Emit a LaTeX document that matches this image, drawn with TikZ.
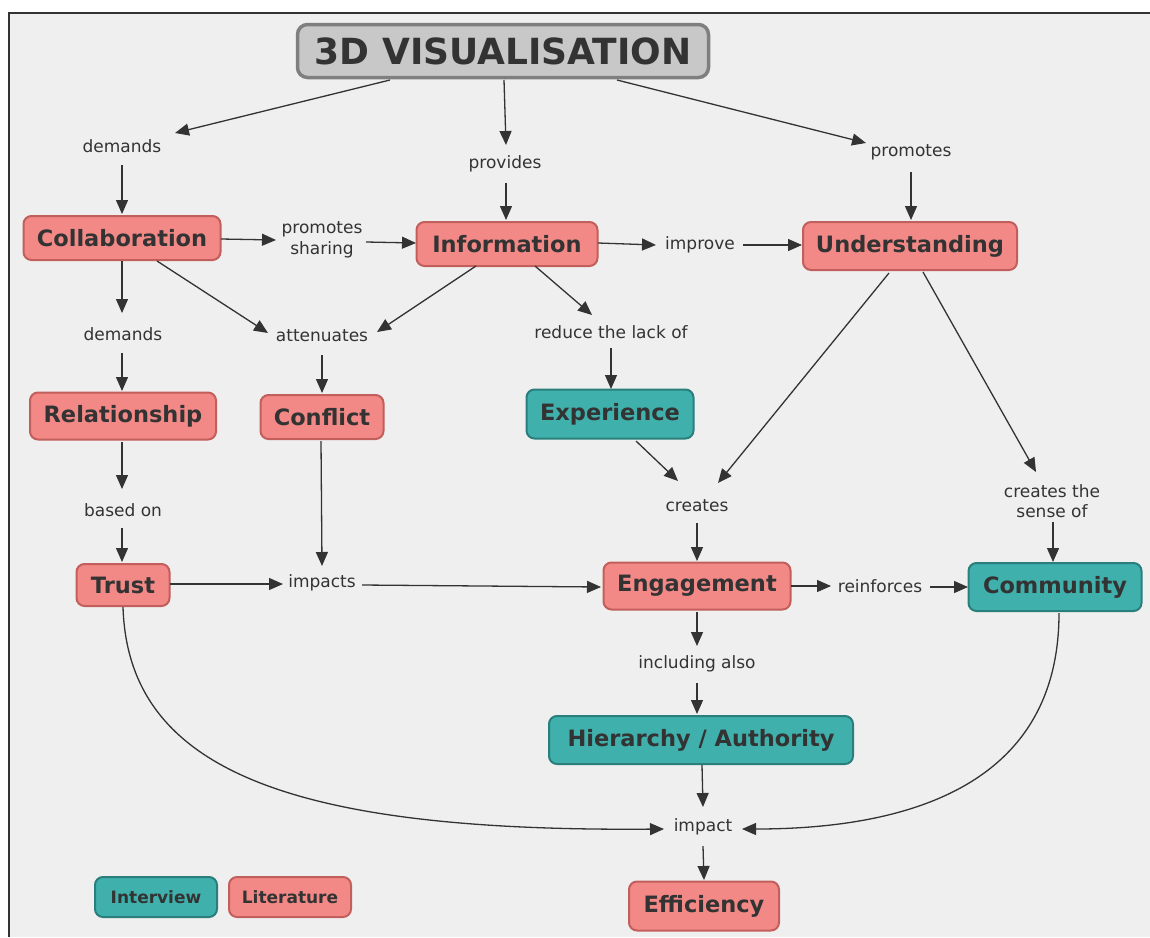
\documentclass[tikz,border=0pt]{standalone}
\usepackage{fontspec}
\setmainfont{DejaVu Sans}
\usetikzlibrary{arrows.meta}
\definecolor{bg}{HTML}{EFEFEF}
\definecolor{txt}{HTML}{333333}
\definecolor{pinkfill}{HTML}{F28986}
\definecolor{pinkdraw}{HTML}{C25E5B}
\definecolor{tealfill}{HTML}{3FB0AC}
\definecolor{tealdraw}{HTML}{2A7F7C}
\definecolor{greyfill}{HTML}{C8C8C8}
\definecolor{greydraw}{HTML}{7F7F7F}
\tikzset{
  box/.style={rounded corners=8pt, line width=2pt, text=txt, inner sep=0pt,
    font=\fontsize{22.5}{26}\selectfont\bfseries},
  lit/.style={box, fill=pinkfill, draw=pinkdraw},
  intv/.style={box, fill=tealfill, draw=tealdraw},
  lbl/.style={text=txt, inner sep=0pt, align=center,
    font=\fontsize{17}{20.5}\selectfont},
  arr/.style={draw=txt, line width=1.3pt, -{Triangle[length=14pt,width=12pt]}},
}
\begin{document}
\begin{tikzpicture}[x=1pt,y=-1pt]
\useasboundingbox (0,0) rectangle (1150,937);
\fill[white] (0,0) rectangle (1150,937);
\fill[bg] (9,13) rectangle (1150,937);
\draw[txt, line width=2pt] (9,937) -- (9,13) -- (1150,13);

% concept nodes
\node[box, fill=greyfill, draw=greydraw, line width=3.5pt, rounded corners=10pt,
  minimum width=411pt, minimum height=53pt,
  font=\fontsize{36}{40}\selectfont\bfseries] (T) at (503,51) {3D VISUALISATION};
\node[lit, minimum width=197pt, minimum height=44pt] (C) at (122,238) {Collaboration};
\node[lit, minimum width=181pt, minimum height=44pt] (I) at (507,244) {Information};
\node[lit, minimum width=214pt, minimum height=48pt] (U) at (910,246) {Understanding};
\node[lit, minimum width=186pt, minimum height=47pt] (RL) at (123,416) {Relationship};
\node[lit, minimum width=123pt, minimum height=44pt] (CF) at (322,417) {Conflict};
\node[intv, minimum width=167pt, minimum height=49pt] (E) at (610,414) {Experience};
\node[lit, minimum width=93pt, minimum height=42pt] (TR) at (123,585) {Trust};
\node[lit, minimum width=187pt, minimum height=47pt] (EN) at (697,586) {Engagement};
\node[intv, minimum width=173pt, minimum height=48pt] (CM) at (1055,587) {Community};
\node[intv, minimum width=304pt, minimum height=48pt] (H) at (701,740) {Hierarchy / Authority};
\node[lit, minimum width=150pt, minimum height=49pt] (EF) at (704,906) {Efficiency};

% legend
\node[intv, minimum width=122pt, minimum height=40pt,
  font=\fontsize{17}{20}\selectfont\bfseries] (LI) at (156,897) {Interview};
\node[lit, minimum width=122pt, minimum height=40pt,
  font=\fontsize{17}{20}\selectfont\bfseries] (LL) at (290,897) {Literature};

% linking phrases
\node[lbl] (D1) at (122,146) {demands};
\node[lbl] (P) at (505,164) {provides};
\node[lbl] (PR) at (911,152) {promotes};
\node[lbl] (PS) at (322,240) {promotes\\sharing};
\node[lbl] (IM) at (700,245) {improve};
\node[lbl] (D2) at (123,334) {demands};
\node[lbl] (A) at (322,336) {attenuates};
\node[lbl] (R) at (611,332) {reduce the lack of};
\node[lbl] (B) at (123,510) {based on};
\node[lbl] (CR) at (697,506) {creates};
\node[lbl] (CS) at (1052,501) {creates the\\sense of};
\node[lbl] (IP) at (322,583) {impacts};
\node[lbl] (RF) at (880,586) {reinforces};
\node[lbl] (IN) at (697,664) {including also};
\node[lbl] (IA) at (703,827) {impact};

% connectors
\draw[arr] ([shift={(-113,29)}]T.center) -- ([shift={(53,-13)}]D1.center);
\draw[arr] ([shift={(1,29)}]T.center) -- ([shift={(1,-19)}]P.center);
\draw[arr] ([shift={(114,29)}]T.center) -- ([shift={(-45,-9)}]PR.center);
\draw[arr] ([shift={(0,19)}]D1.center) -- ([shift={(0,-24)}]C.center);
\draw[arr] ([shift={(1,19)}]P.center) -- ([shift={(-1,-24)}]I.center);
\draw[arr] ([shift={(0,20)}]PR.center) -- ([shift={(1,-26)}]U.center);
\draw[arr] ([shift={(99,1)}]C.center) -- ([shift={(-46,0)}]PS.center);
\draw[arr] ([shift={(44,2)}]PS.center) -- ([shift={(-91,-1)}]I.center);
\draw[arr] ([shift={(91,-1)}]I.center) -- ([shift={(-44,0)}]IM.center);
\draw[arr] ([shift={(43,0)}]IM.center) -- ([shift={(-108,-1)}]U.center);
\draw[arr] ([shift={(0,23)}]C.center) -- ([shift={(-1,-21)}]D2.center);
\draw[arr] ([shift={(35,23)}]C.center) -- ([shift={(-54,-3)}]A.center);
\draw[arr] ([shift={(-31,22)}]I.center) -- ([shift={(55,-4)}]A.center);
\draw[arr] ([shift={(28,22)}]I.center) -- ([shift={(-19,-17)}]R.center);
\draw[arr] ([shift={(-1,19)}]D2.center) -- ([shift={(-1,-25)}]RL.center);
\draw[arr] ([shift={(0,19)}]A.center) -- ([shift={(0,-24)}]CF.center);
\draw[arr] ([shift={(0,16)}]R.center) -- ([shift={(1,-25)}]E.center);
\draw[arr] ([shift={(-1,26)}]RL.center) -- ([shift={(-1,-21)}]B.center);
\draw[arr] ([shift={(26,27)}]E.center) -- ([shift={(-19,-25)}]CR.center);
\draw[arr] ([shift={(-21,27)}]U.center) -- ([shift={(21,-23)}]CR.center);
\draw[arr] ([shift={(13,26)}]U.center) -- ([shift={(-16,-29)}]CS.center);
\draw[arr] ([shift={(-1,18)}]B.center) -- ([shift={(-1,-23)}]TR.center);
\draw[arr] ([shift={(0,17)}]CR.center) -- ([shift={(0,-25)}]EN.center);
\draw[arr] ([shift={(1,21)}]CS.center) -- ([shift={(-2,-25)}]CM.center);
\draw[arr] ([shift={(-1,24)}]CF.center) -- ([shift={(0,-17)}]IP.center);
\draw[arr] ([shift={(47,-1)}]TR.center) -- ([shift={(-39,1)}]IP.center);
\draw[arr] ([shift={(40,2)}]IP.center) -- ([shift={(-96,1)}]EN.center);
\draw[arr] ([shift={(94,0)}]EN.center) -- ([shift={(-49,0)}]RF.center);
\draw[arr] ([shift={(50,1)}]RF.center) -- ([shift={(-87,0)}]CM.center);
\draw[arr] ([shift={(0,26)}]EN.center) -- ([shift={(0,-18)}]IN.center);
\draw[arr] ([shift={(0,19)}]IN.center) -- ([shift={(-4,-26)}]H.center);
\draw[arr] ([shift={(1,25)}]H.center) -- ([shift={(0,-20)}]IA.center);
\draw[arr] ([shift={(0,19)}]IA.center) -- ([shift={(0,-26)}]EF.center);
\draw[arr] ([shift={(0,22)}]TR.center) .. controls (128,770) and (290,832) .. ([shift={(-39,2)}]IA.center);
\draw[arr] ([shift={(4,26)}]CM.center) .. controls (1059,790) and (900,829) .. ([shift={(39,2)}]IA.center);
\end{tikzpicture}
\end{document}
